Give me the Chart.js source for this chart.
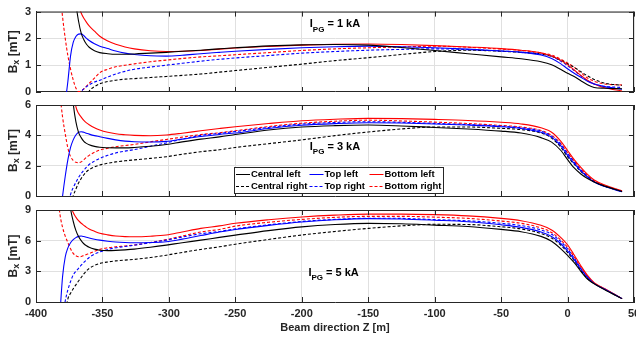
<!DOCTYPE html>
<html>
<head>
<meta charset="utf-8">
<script src="https://cdn.jsdelivr.net/npm/chart.js@4.4.1/dist/chart.umd.min.js"></script>
<style>
  html, body { margin: 0; padding: 0; background: #fff; }
  #wrap { position: relative; width: 636px; height: 337px; overflow: hidden; }
  #wrap canvas { position: absolute; left: 0; top: 0; }
</style>
</head>
<body>
<div id="wrap">
  <canvas id="p1" width="660" height="337"></canvas>
  <canvas id="p2" width="660" height="337"></canvas>
  <canvas id="p3" width="660" height="337"></canvas>
</div>
<script>
// Beam direction Z [m], shared by every curve
const zPos = [-384, -382, -380, -378, -376, -374, -372, -370, -368, -366, -364, -362, -360, -356, -352, -346, -340, -333,
  -326, -314, -302, -290, -276, -262, -250, -225, -200, -175, -150, -125, -100, -75, -50, -35, -20, -12, -5, 0, 5, 10, 15, 20, 28, 41];

const xTicks = [-400, -350, -300, -250, -200, -150, -100, -50, 0, 50];
const yTicks1 = [0, 1, 2, 3];
const yTicks2 = [0, 2, 4, 6];
const yTicks3 = [0, 3, 6, 9];

const legendLabels = ['Central left', 'Top left', 'Bottom left', 'Central right', 'Top right', 'Bottom right'];
const currentLabels = ['1 kA', '3 kA', '5 kA'];

// Bx [mT], I_PG = 1 kA
const centralLeft1 = [null, null, null, null, null, null, 4.2, 3.3, 2.65, 2.2, 1.95, 1.78, 1.67, 1.54, 1.47, 1.43, 1.41, 1.41,
  1.42, 1.45, 1.48, 1.52, 1.56, 1.61, 1.65, 1.72, 1.76, 1.77, 1.75, 1.66, 1.55, 1.43, 1.31, 1.24, 1.13, 1.02, 0.84, 0.7, 0.58, 0.42, 0.27, 0.17, 0.14, 0.12];
const topLeft1 = [null, null, null, -0.4, 0.4, 1.35, 1.85, 2.07, 2.16, 2.17, 2.1, 2.0, 1.92, 1.8, 1.71, 1.62, 1.53, 1.45,
  1.4, 1.35, 1.34, 1.37, 1.43, 1.48, 1.52, 1.59, 1.65, 1.69, 1.71, 1.69, 1.65, 1.6, 1.53, 1.48, 1.38, 1.25, 1.05, 0.87, 0.7, 0.55, 0.4, 0.3, 0.2, 0.1];
const bottomLeft1 = [null, null, null, null, null, null, null, 3.8, 3.25, 2.95, 2.75, 2.6, 2.47, 2.27, 2.08, 1.9, 1.78, 1.68,
  1.61, 1.54, 1.51, 1.52, 1.55, 1.6, 1.64, 1.7, 1.75, 1.78, 1.79, 1.77, 1.73, 1.68, 1.62, 1.56, 1.46, 1.34, 1.18, 1.02, 0.82, 0.62, 0.44, 0.3, 0.16, 0.04];
const centralRight1 = [null, null, null, null, null, null, null, null, null, null, null, -0.2, 0.03, 0.2, 0.31, 0.39, 0.44, 0.48,
  0.5, 0.54, 0.58, 0.62, 0.67, 0.74, 0.8, 0.92, 1.04, 1.17, 1.28, 1.4, 1.51, 1.56, 1.52, 1.48, 1.41, 1.33, 1.18, 1.05, 0.92, 0.76, 0.6, 0.47, 0.33, 0.25];
const topRight1 = [null, null, null, null, null, null, null, null, -0.3, 0.0, 0.12, 0.2, 0.27, 0.37, 0.44, 0.56, 0.67, 0.77,
  0.85, 0.93, 1.0, 1.07, 1.15, 1.22, 1.27, 1.36, 1.45, 1.51, 1.56, 1.59, 1.61, 1.58, 1.53, 1.49, 1.42, 1.33, 1.15, 0.98, 0.8, 0.6, 0.42, 0.3, 0.21, 0.17];
const bottomRight1 = [5, 3.8, 2.8, 2.0, 1.35, 0.85, 0.45, 0.15, 0.02, 0.04, 0.12, 0.22, 0.32, 0.52, 0.72, 0.85, 0.94, 1.0,
  1.05, 1.13, 1.19, 1.25, 1.31, 1.35, 1.39, 1.47, 1.55, 1.61, 1.65, 1.68, 1.71, 1.67, 1.6, 1.55, 1.46, 1.38, 1.22, 1.08, 0.92, 0.72, 0.52, 0.4, 0.3, 0.26];

// Bx [mT], I_PG = 3 kA
const centralLeft2 = [null, null, null, null, null, 8, 6.1, 4.9, 4.2, 3.85, 3.6, 3.47, 3.38, 3.27, 3.21, 3.18, 3.17, 3.17,
  3.2, 3.28, 3.4, 3.57, 3.75, 3.9, 4.05, 4.35, 4.55, 4.64, 4.68, 4.62, 4.52, 4.42, 4.28, 4.15, 3.85, 3.55, 3.0, 2.4, 1.85, 1.45, 1.15, 0.92, 0.65, 0.3];
const topLeft2 = [null, -1.5, 0.0, 1.3, 2.4, 3.2, 3.7, 4.02, 4.2, 4.24, 4.2, 4.14, 4.08, 3.98, 3.91, 3.8, 3.7, 3.62,
  3.58, 3.56, 3.6, 3.75, 3.92, 4.06, 4.15, 4.45, 4.66, 4.77, 4.83, 4.81, 4.75, 4.68, 4.57, 4.45, 4.2, 3.88, 3.3, 2.68, 2.15, 1.65, 1.25, 0.92, 0.62, 0.28];
const bottomLeft2 = [null, null, null, null, null, 9, 7, 5.9, 5.45, 5.2, 4.98, 4.82, 4.7, 4.5, 4.35, 4.2, 4.1, 4.04,
  4.0, 3.97, 4.02, 4.14, 4.3, 4.45, 4.57, 4.78, 4.96, 5.06, 5.12, 5.1, 5.05, 4.98, 4.86, 4.75, 4.5, 4.2, 3.6, 3.0, 2.4, 1.88, 1.42, 1.05, 0.72, 0.35];
const centralRight2 = [null, null, null, null, null, -0.8, 0.0, 0.45, 0.85, 1.15, 1.4, 1.6, 1.74, 1.92, 2.04, 2.16, 2.25, 2.32,
  2.38, 2.48, 2.59, 2.75, 2.92, 3.05, 3.2, 3.45, 3.7, 3.98, 4.22, 4.42, 4.55, 4.55, 4.46, 4.38, 4.15, 3.82, 3.2, 2.6, 2.1, 1.62, 1.25, 0.94, 0.65, 0.3];
const topRight2 = [null, null, null, null, -0.6, 0.1, 0.55, 0.9, 1.22, 1.48, 1.7, 1.9, 2.08, 2.3, 2.48, 2.68, 2.84, 2.96,
  3.06, 3.28, 3.5, 3.75, 4.0, 4.13, 4.25, 4.52, 4.74, 4.85, 4.9, 4.86, 4.79, 4.71, 4.61, 4.5, 4.28, 3.95, 3.4, 2.8, 2.25, 1.72, 1.3, 0.96, 0.65, 0.3];
const bottomRight2 = [9, 6.8, 5.2, 4.1, 3.15, 2.6, 2.35, 2.22, 2.2, 2.25, 2.4, 2.55, 2.68, 2.88, 3.03, 3.15, 3.25, 3.33,
  3.4, 3.57, 3.73, 3.88, 4.05, 4.17, 4.3, 4.58, 4.8, 4.93, 5.0, 4.95, 4.87, 4.78, 4.65, 4.55, 4.32, 4.0, 3.45, 2.85, 2.3, 1.78, 1.35, 1.0, 0.68, 0.32];

// Bx [mT], I_PG = 5 kA
const centralLeft3 = [null, null, null, null, 11, 9.1, 7.9, 7.0, 6.4, 6.0, 5.7, 5.5, 5.35, 5.17, 5.07, 5.03, 5.05, 5.1,
  5.17, 5.35, 5.56, 5.8, 6.05, 6.32, 6.54, 6.98, 7.35, 7.58, 7.69, 7.65, 7.52, 7.38, 7.1, 6.88, 6.42, 5.95, 5.2, 4.55, 3.85, 3.0, 2.25, 1.78, 1.2, 0.33];
const topLeft3 = [null, -1.2, 2.5, 4.4, 5.3, 5.8, 6.1, 6.3, 6.42, 6.45, 6.4, 6.33, 6.26, 6.14, 6.05, 5.95, 5.87, 5.82,
  5.8, 5.82, 5.9, 6.15, 6.5, 6.85, 7.1, 7.5, 7.83, 8.05, 8.16, 8.12, 8.0, 7.85, 7.55, 7.3, 6.85, 6.4, 5.7, 5.0, 4.15, 3.2, 2.4, 1.8, 1.25, 0.33];
const bottomLeft3 = [null, null, null, null, 11, 9.5, 8.75, 8.3, 7.95, 7.7, 7.5, 7.3, 7.15, 6.92, 6.72, 6.57, 6.46, 6.4,
  6.38, 6.43, 6.55, 6.85, 7.2, 7.45, 7.7, 8.05, 8.32, 8.5, 8.6, 8.6, 8.55, 8.43, 8.18, 7.95, 7.5, 7.05, 6.3, 5.6, 4.6, 3.55, 2.6, 1.9, 1.3, 0.33];
const centralRight3 = [null, null, null, -1.2, 0.3, 0.85, 1.3, 1.68, 2.05, 2.4, 2.75, 3.05, 3.28, 3.58, 3.77, 3.92, 4.02, 4.1,
  4.17, 4.35, 4.58, 4.85, 5.14, 5.4, 5.65, 6.12, 6.55, 6.9, 7.2, 7.45, 7.6, 7.58, 7.36, 7.15, 6.7, 6.25, 5.55, 4.85, 4.05, 3.1, 2.3, 1.8, 1.24, 0.33];
const topRight3 = [null, null, -1.5, 0.1, 1.2, 2.0, 2.65, 3.0, 3.3, 3.6, 3.88, 4.12, 4.35, 4.68, 4.9, 5.13, 5.3, 5.43,
  5.56, 5.8, 6.05, 6.35, 6.68, 6.9, 7.15, 7.55, 7.88, 8.08, 8.2, 8.18, 8.06, 7.94, 7.7, 7.48, 7.05, 6.62, 5.9, 5.2, 4.3, 3.3, 2.45, 1.82, 1.26, 0.33];
const bottomRight3 = [11, 8.6, 7.3, 6.45, 5.8, 5.2, 4.75, 4.52, 4.43, 4.45, 4.55, 4.65, 4.73, 4.95, 5.15, 5.3, 5.4, 5.48,
  5.58, 5.82, 6.1, 6.45, 6.85, 7.1, 7.42, 7.8, 8.08, 8.28, 8.38, 8.38, 8.3, 8.18, 7.92, 7.7, 7.25, 6.8, 6.05, 5.35, 4.4, 3.4, 2.5, 1.85, 1.28, 0.33];

const FONT = "'Liberation Sans', Arial, Helvetica, sans-serif";
const INK = '#262626';
const GRID = '#e0e0e0';
const lineColors = ['#000000', '#0000ff', '#ff0000', '#000000', '#0000ff', '#ff0000'];
const dashes = [[], [], [], [3, 2], [3, 2], [3, 2]];

const W = 660, H = 337, PLOT_RIGHT = 634, Y_AXIS_W = 36;

const panels = [
  { id: 'p1', top: 9, bottom: 92, max: 3, ticks: yTicks1, note: currentLabels[0], noteAt: [-194, 2.52],
    series: [centralLeft1, topLeft1, bottomLeft1, centralRight1, topRight1, bottomRight1] },
  { id: 'p2', top: 105, bottom: 196, max: 6, ticks: yTicks2, note: currentLabels[1], noteAt: [-194, 3.25], legend: true,
    series: [centralLeft2, topLeft2, bottomLeft2, centralRight2, topRight2, bottomRight2] },
  { id: 'p3', top: 210, bottom: 302, max: 9, ticks: yTicks3, note: currentLabels[2], noteAt: [-195, 2.82],
    series: [centralLeft3, topLeft3, bottomLeft3, centralRight3, topRight3, bottomRight3] }
];

// draw a run of text pieces, each piece {t, size, dy}
function drawRuns(ctx, runs, x, y, centered) {
  let w = 0;
  runs.forEach(r => { ctx.font = 'bold ' + r.size + 'px ' + FONT; w += ctx.measureText(r.t).width; });
  let cx = centered ? x - w / 2 : x;
  runs.forEach(r => {
    ctx.font = 'bold ' + r.size + 'px ' + FONT;
    ctx.fillText(r.t, cx, y + (r.dy || 0));
    cx += ctx.measureText(r.t).width;
  });
}

const decorPlugin = {
  id: 'decor',
  afterDraw(chart, args, opts) {
    const { ctx, chartArea: a, scales: { x, y } } = chart;
    ctx.save();
    ctx.strokeStyle = INK;
    ctx.lineWidth = 1;
    ctx.beginPath();
    // top and right edges of the box
    ctx.moveTo(a.left, a.top + 0.5); ctx.lineTo(a.right, a.top + 0.5);
    ctx.moveTo(a.right - 0.5, a.top); ctx.lineTo(a.right - 0.5, a.bottom);
    // inward tick marks
    x.ticks.forEach(t => {
      const px = Math.round(x.getPixelForValue(t.value)) + 0.5;
      ctx.moveTo(px, a.bottom); ctx.lineTo(px, a.bottom - 5);
      ctx.moveTo(px, a.top); ctx.lineTo(px, a.top + 5);
    });
    y.ticks.forEach(t => {
      const py = Math.round(y.getPixelForValue(t.value)) + 0.5;
      ctx.moveTo(a.left, py); ctx.lineTo(a.left + 5, py);
      ctx.moveTo(a.right, py); ctx.lineTo(a.right - 5, py);
    });
    ctx.stroke();

    // y axis label  B_x [mT]
    ctx.fillStyle = INK;
    ctx.textBaseline = 'middle';
    ctx.save();
    ctx.translate(14, (a.top + a.bottom) / 2);
    ctx.rotate(-Math.PI / 2);
    drawRuns(ctx, [{ t: 'B', size: 12 }, { t: 'x', size: 9, dy: 3 }, { t: ' [mT]', size: 12 }], 0, 0, true);
    ctx.restore();

    // current annotation  I_PG = n kA
    ctx.fillStyle = '#000';
    const nx = x.getPixelForValue(opts.noteAt[0]);
    const ny = y.getPixelForValue(opts.noteAt[1]);
    drawRuns(ctx, [{ t: 'I', size: 11 }, { t: 'PG', size: 8, dy: 5 }, { t: ' = ' + opts.note, size: 11 }], nx, ny, false);

    if (opts.legend) {
      const bx = 234, by = 167, bw = 209, bh = 26;
      ctx.fillStyle = '#fff';
      ctx.fillRect(bx, by, bw, bh);
      ctx.strokeStyle = INK;
      ctx.strokeRect(bx + 0.5, by + 0.5, bw, bh);
      const cols = [236, 309.5, 369.5];
      const rows = [174.5, 186.5];
      chart.data.datasets.forEach((ds, i) => {
        const lx = cols[i % 3], ly = rows[Math.floor(i / 3)];
        ctx.beginPath();
        ctx.strokeStyle = ds.borderColor;
        ctx.setLineDash(ds.borderDash);
        ctx.moveTo(lx, ly); ctx.lineTo(lx + 14, ly);
        ctx.stroke();
        ctx.setLineDash([]);
        ctx.fillStyle = '#000';
        ctx.font = 'bold 9.5px ' + FONT;
        ctx.textBaseline = 'middle';
        ctx.fillText(ds.label, lx + 15, ly);
      });
    }
    ctx.restore();
  }
};

panels.forEach((p, k) => {
  const last = k === panels.length - 1;
  const xAxisH = last ? H - p.bottom : 0;
  new Chart(document.getElementById(p.id), {
    type: 'line',
    data: {
      datasets: p.series.map((vals, i) => ({
        label: legendLabels[i],
        data: zPos.map((z, j) => ({ x: z, y: vals[j] })),
        borderColor: lineColors[i],
        borderWidth: 1.1,
        borderDash: dashes[i],
        pointRadius: 0,
        fill: false,
        cubicInterpolationMode: 'monotone'
      }))
    },
    options: {
      responsive: false,
      animation: false,
      devicePixelRatio: 1,
      events: [],
      layout: { padding: { left: 0, right: W - PLOT_RIGHT, top: p.top, bottom: H - p.bottom - xAxisH } },
      plugins: {
        legend: { display: false },
        tooltip: { enabled: false },
        decor: { note: p.note, noteAt: p.noteAt, legend: !!p.legend }
      },
      scales: {
        x: {
          type: 'linear',
          min: -400,
          max: 50,
          afterBuildTicks: s => { s.ticks = xTicks.map(v => ({ value: v })); },
          afterFit: s => { s.height = xAxisH; },
          grid: { color: GRID, drawTicks: false },
          border: { color: INK, width: 1 },
          ticks: { display: last, padding: 5, color: INK, font: { family: FONT, size: 11, weight: 'bold' }, maxRotation: 0 },
          title: { display: last, text: 'Beam direction Z [m]', color: INK, padding: { top: 0, bottom: 2 },
            font: { family: FONT, size: 11, weight: 'bold' } }
        },
        y: {
          min: 0,
          max: p.max,
          afterBuildTicks: s => { s.ticks = p.ticks.map(v => ({ value: v })); },
          afterFit: s => { s.width = Y_AXIS_W; },
          grid: { color: GRID, drawTicks: false },
          border: { color: INK, width: 1 },
          ticks: { padding: 5, color: INK, font: { family: FONT, size: 11, weight: 'bold' } }
        }
      }
    },
    plugins: [decorPlugin]
  });
});
</script>
</body>
</html>
